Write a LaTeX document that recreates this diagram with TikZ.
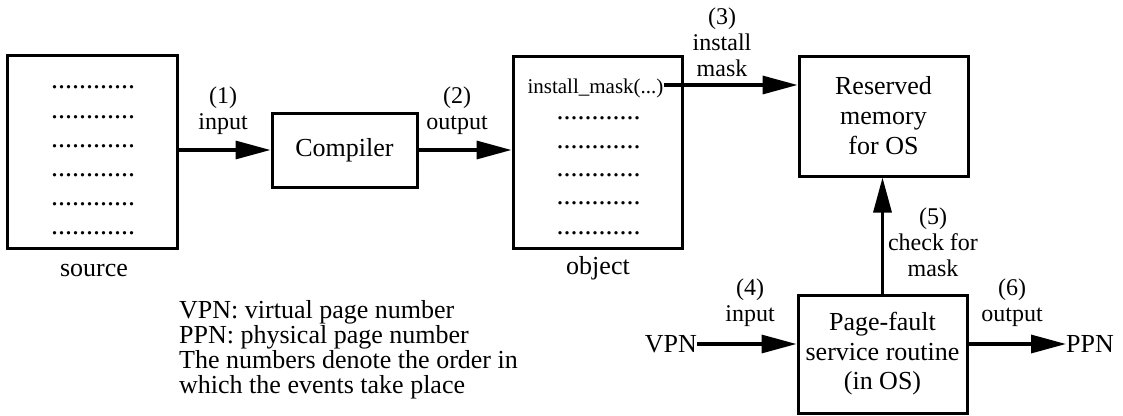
\documentclass[tikz,border=0pt]{standalone}
\usepackage{fontspec}
\setmainfont{LiberationSerif}[Extension=.ttf, UprightFont=*-Regular, BoldFont=*-Bold, ItalicFont=*-Italic, BoldItalicFont=*-BoldItalic]
\usetikzlibrary{arrows.meta}
\begin{document}
\begin{tikzpicture}[x=1pt,y=-1pt,
  box/.style={draw=black, line width=3pt, inner sep=0pt},
  big/.style={font=\fontsize{26}{29.5}\selectfont, align=center},
  lbl/.style={font=\fontsize{24}{26}\selectfont, align=center, inner sep=0pt},
  dotrow/.style={font=\fontsize{28}{28}\selectfont, inner sep=0pt, anchor=base},
  flow/.style={line width=3.3pt, -{Triangle[length=35pt,width=18pt]}}]
\useasboundingbox (0,0) rectangle (1123,415);

% source file
\node[box, minimum width=170pt, minimum height=193pt] (src) at (92,151.5) {};
\foreach \y [count=\i] in {87,117,146,175,204,233}
  \node[dotrow] (s\i) at (93,\y+1.5) {............};
\node[big, inner sep=0pt] (srclbl) at (94,270) {source};

% compiler
\node[box, big, minimum width=145pt, minimum height=74pt] (cmp) at (344.5,150) {Compiler};

% object file
\node[box, minimum width=169pt, minimum height=192pt] (obj) at (597.5,152) {};
\node[font=\fontsize{21}{21}\selectfont, inner sep=0pt] (im) at (595.5,88) {install\_mask(...)};
\foreach \y [count=\i] in {118,147,175,203,233}
  \node[dotrow] (o\i) at (598.5,\y+1.5) {............};
\node[big, inner sep=0pt] (objlbl) at (598,268) {object};

% reserved memory
\node[box, big, minimum width=169pt, minimum height=120pt, font=\fontsize{26}{30}\selectfont] (res) at (883.5,116) {Reserved\\memory\\for OS};

% page-fault handler
\node[box, big, minimum width=169pt, minimum height=118pt] (pf) at (882.5,354) {Page-fault\\service routine\\(in OS)};

% VPN / PPN
\node[big, inner sep=0pt, anchor=east] (vpn) at (697,344) {VPN};
\node[big, inner sep=0pt, anchor=west] (ppn) at (1066,344) {PPN};

% flows
\draw[flow] (src.east |- cmp) -- (cmp.west);
\draw[flow] (cmp.east) -- (obj.west |- cmp);
\coordinate (a3) at (664,85);
\draw[flow] (a3) -- (a3 -| res.west);
\draw[flow] (pf.north) -- (pf.north |- res.south);
\draw[flow] (vpn.east) -- (vpn.east -| pf.west);
\draw[flow] (ppn.west -| pf.east) -- (ppn.west);

% flow labels
\node[lbl] (l1) at (223,111) {(1)\\input};
\node[lbl] (l2) at (457,111) {(2)\\output};
\node[lbl] (l3) at (722,42) {(3)\\install\\mask};
\node[lbl] (l4) at (750,303) {(4)\\input};
\node[lbl] (l5) at (933,242) {(5)\\check for\\mask};
\node[lbl] (l6) at (1012,303) {(6)\\output};

% legend
\node[font=\fontsize{26}{25}\selectfont, align=left, inner sep=0pt, anchor=north west] (legend) at (179,300)
  {VPN: virtual page number\\PPN: physical page number\\The numbers denote the order in\\which the events take place};
\end{tikzpicture}
\end{document}
